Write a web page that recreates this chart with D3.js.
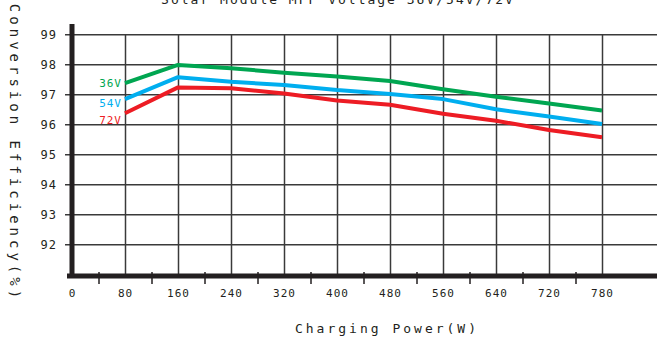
<!DOCTYPE html>
<html>
<head>
<meta charset="utf-8">
<script src="https://cdn.jsdelivr.net/npm/d3@7"></script>
<style>
body { margin: 0; background: #fff; }
svg text { font-family: "DejaVu Sans Mono", monospace; fill: #231f20; }
</style>
</head>
<body>
<svg></svg>
<script>
var screen = {width: 657, height: 337};

// x positions are tick slots; the chart labels its last slot "780"
var xLabels = ["0", "80", "160", "240", "320", "400", "480", "560", "640", "720", "780"];
var yTicks = [92, 93, 94, 95, 96, 97, 98, 99];
var slots = [1, 2, 3, 4, 5, 6, 7, 8, 9, 10];

var eff36 = [97.37, 97.98, 97.87, 97.72, 97.59, 97.44, 97.17, 96.92, 96.69, 96.46];
var eff54 = [96.84, 97.57, 97.42, 97.31, 97.14, 97.01, 96.84, 96.50, 96.26, 96.01];
var eff72 = [96.37, 97.23, 97.20, 97.03, 96.79, 96.65, 96.35, 96.12, 95.81, 95.57];

var seriesNames = ["36V", "54V", "72V"];
var seriesColors = ["#00a651", "#00aeef", "#ed1c24"];

var svg = d3.select("svg")
    .attr("width", screen.width)
    .attr("height", screen.height);

var axisY = 276;

var xScale = d3.scaleLinear()
    .domain([0, 10])
    .range([72, 602]);

var yScale = d3.scaleLinear()
    .domain([91, 99])
    .range([274.3, 34.3]);

// horizontal grid
svg.append("g")
    .attr("class", "hgrid")
    .attr("transform", "translate(65,0)")
    .call(d3.axisLeft(yScale).tickValues(yTicks).tickSize(-(screen.width - 65)).tickFormat(""))
    .call(function(g){ g.select(".domain").remove(); })
    .selectAll("line")
    .attr("stroke", "#3a3a3a")
    .attr("stroke-width", 1.5);

// vertical grid
svg.append("g")
    .attr("class", "vgrid")
    .attr("transform", "translate(0," + axisY + ")")
    .call(d3.axisBottom(xScale).tickValues(slots).tickSize(-(axisY - yScale(99))).tickFormat(""))
    .call(function(g){ g.select(".domain").remove(); })
    .selectAll("line")
    .attr("stroke", "#3a3a3a")
    .attr("stroke-width", 1.5);

// minor ticks on the x axis
svg.append("g")
    .attr("transform", "translate(0,272)")
    .call(d3.axisBottom(xScale).tickValues(d3.range(0.5, 10, 1)).tickSize(12).tickFormat(""))
    .call(function(g){ g.select(".domain").remove(); })
    .selectAll("line")
    .attr("stroke", "#231f20")
    .attr("stroke-width", 1.5);

// y tick labels
svg.append("g")
    .attr("transform", "translate(72,0)")
    .call(d3.axisLeft(yScale).tickValues(yTicks).tickSize(0).tickPadding(15))
    .call(function(g){ g.select(".domain").remove(); })
    .selectAll("text")
    .style("font-size", "12px")
    .style("letter-spacing", "1px");

// x tick labels
svg.append("g")
    .attr("transform", "translate(0," + axisY + ")")
    .call(d3.axisBottom(xScale).tickValues(d3.range(0, 11)).tickSize(0).tickPadding(13)
        .tickFormat(function(i){ return xLabels[i]; }))
    .call(function(g){ g.select(".domain").remove(); })
    .selectAll("text")
    .style("font-size", "11px")
    .style("letter-spacing", "1px");

// thick axes
svg.append("line")
    .attr("x1", 67).attr("x2", screen.width)
    .attr("y1", axisY).attr("y2", axisY)
    .attr("stroke", "#231f20")
    .attr("stroke-width", 5);

svg.append("line")
    .attr("x1", 72).attr("x2", 72)
    .attr("y1", 24).attr("y2", axisY + 2)
    .attr("stroke", "#231f20")
    .attr("stroke-width", 5);

// series lines
var lineGenerator = d3.line()
    .x(function(d, i){ return xScale(slots[i]); })
    .y(function(d){ return yScale(d); });

var allSeries = [eff36, eff54, eff72];

svg.append("g")
    .selectAll("path")
    .data(allSeries)
    .enter()
    .append("path")
    .attr("d", lineGenerator)
    .attr("fill", "none")
    .attr("stroke", function(d, i){ return seriesColors[i]; })
    .attr("stroke-width", 4)
    .attr("stroke-linejoin", "round");

// series labels at line starts
var labelOffsets = [4, 8, 11];
svg.append("g")
    .selectAll("text")
    .data(allSeries)
    .enter()
    .append("text")
    .attr("x", xScale(slots[0]) - 3)
    .attr("y", function(d, i){ return yScale(d[0]) + labelOffsets[i]; })
    .attr("text-anchor", "end")
    .style("font-size", "11px")
    .style("letter-spacing", "1px")
    .style("fill", function(d, i){ return seriesColors[i]; })
    .text(function(d, i){ return seriesNames[i]; });

// title (sits partly above the frame, as in the source)
svg.append("text")
    .attr("x", 338)
    .attr("y", 4)
    .attr("text-anchor", "middle")
    .style("font-size", "13px")
    .style("letter-spacing", "2px")
    .text("Solar Module MPP Voltage 36V/54V/72V");

// axis titles
svg.append("text")
    .attr("x", 387)
    .attr("y", 333)
    .attr("text-anchor", "middle")
    .style("font-size", "13px")
    .style("letter-spacing", "3px")
    .text("Charging Power(W)");

svg.append("text")
    .attr("transform", "translate(10,153) rotate(90)")
    .attr("text-anchor", "middle")
    .style("font-size", "14px")
    .style("letter-spacing", "4px")
    .text("Conversion Efficiency(%)");
</script>
</body>
</html>
